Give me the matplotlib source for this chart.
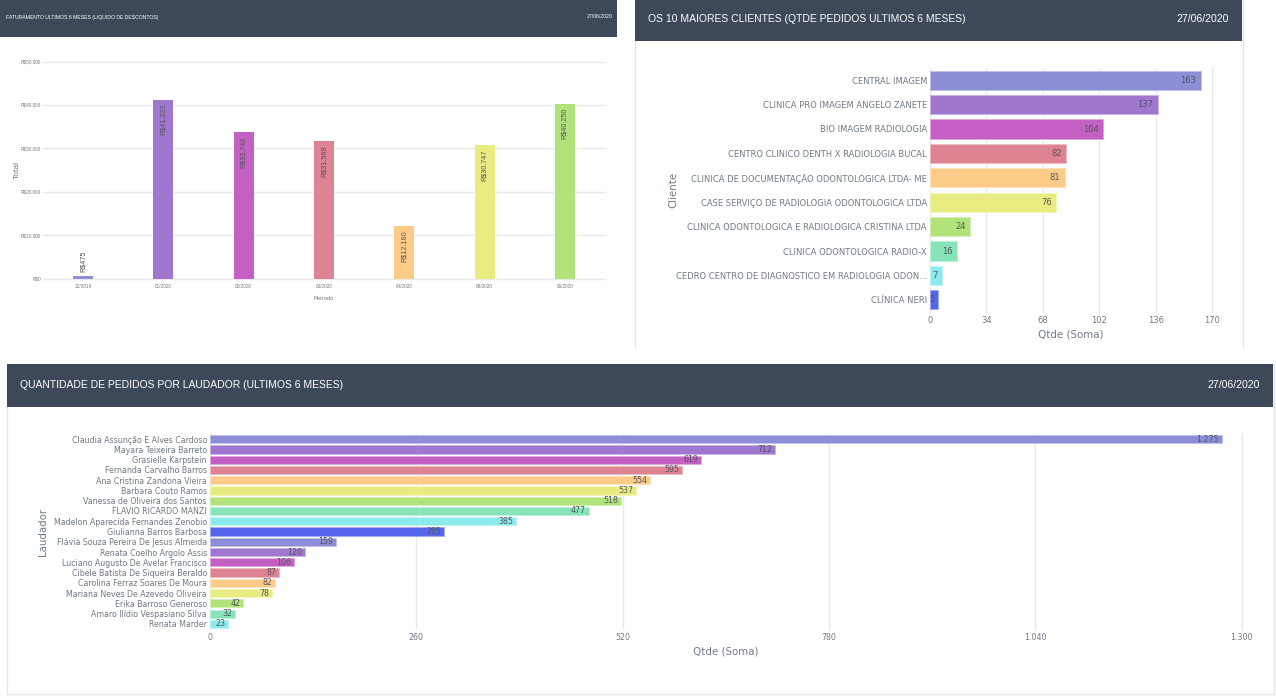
import matplotlib
matplotlib.use("Agg")
import matplotlib.pyplot as plt
from matplotlib.patches import Rectangle
from matplotlib.colors import to_rgb

W, H = 1276, 697

palette = ['#8c8fd8', '#9f77cf', '#c45fc3', '#de8392', '#fdcb88',
           '#e9ec80', '#b2e27a', '#87e3b8', '#8bebec', '#5566ea']

periodos = ['12/2019', '01/2020', '02/2020', '03/2020', '04/2020', '05/2020', '06/2020']
faturamento = [475, 41222, 33746, 31569, 12160, 30747, 40250]
fat_labels = ['R$475', 'R$41.222', 'R$33.746', 'R$31.569', 'R$12.160', 'R$30.747', 'R$40.250']
fat_ticks = [0, 10000, 20000, 30000, 40000, 50000]
fat_ticklabels = ['R$0', 'R$10.000', 'R$20.000', 'R$30.000', 'R$40.000', 'R$50.000']

clientes = ['CENTRAL IMAGEM', 'CLINICA PRO IMAGEM ANGELO ZANETE', 'BIO IMAGEM RADIOLOGIA',
            'CENTRO CLINICO DENTH X RADIOLOGIA BUCAL', 'CLINICA DE DOCUMENTAÇÃO ODONTOLÓGICA LTDA- ME',
            'CASE SERVIÇO DE RADIOLOGIA ODONTOLOGICA LTDA', 'CLINICA ODONTOLOGICA E RADIOLOGICA CRISTINA LTDA',
            'CLINICA ODONTOLOGICA RADIO-X', 'CEDRO CENTRO DE DIAGNOSTICO EM RADIOLOGIA ODON...', 'CLÍNICA NERI']
clientes_qtde = [163, 137, 104, 82, 81, 76, 24, 16, 7, 5]
clientes_ticks = [0, 34, 68, 102, 136, 170]

laudadores = ['Claudia Assunção E Alves Cardoso', 'Mayara Teixeira Barreto', 'Grasielle Karpstein',
              'Fernanda Carvalho Barros', 'Ana Cristina Zandona Vieira', 'Barbara Couto Ramos',
              'Vanessa de Oliveira dos Santos', 'FLAVIO RICARDO MANZI', 'Madelon Aparecida Fernandes Zenobio',
              'Giulianna Barros Barbosa', 'Flávia Souza Pereira De Jesus Almeida', 'Renata Coelho Argolo Assis',
              'Luciano Augusto De Avelar Francisco', 'Cibele Batista De Siqueira Beraldo',
              'Carolina Ferraz Soares De Moura', 'Mariana Neves De Azevedo Oliveira', 'Erika Barroso Generoso',
              'Amaro Ilídio Vespasiano Silva', 'Renata Marder']
laudadores_qtde = [1275, 712, 619, 595, 554, 537, 518, 477, 385, 295, 159, 120, 106, 87, 82, 78, 42, 32, 23]
laudadores_labels = ['1.275'] + [str(q) for q in laudadores_qtde[1:]]
laudadores_ticks = [0, 260, 520, 780, 1040, 1300]
laudadores_ticklabels = ['0', '260', '520', '780', '1.040', '1.300']

TXT = '#707a86'
VAL = '#555560'
GRID = '#e8e9ec'
HEAD = '#3d4858'
BORDER = '#e2e6ee'


def lighter(c, t=0.45):
    r = to_rgb(c)
    return tuple(v + (1 - v) * t for v in r)


fig = plt.figure(figsize=(W / 100, H / 100), dpi=100, facecolor='white')


def box(x0, y0, x1, y1, **kw):
    fig.add_artist(Rectangle((x0 / W, 1 - y1 / H), (x1 - x0) / W, (y1 - y0) / H,
                             transform=fig.transFigure, zorder=-1, **kw))


def ftext(x, y, s, **kw):
    fig.text(x / W, 1 - y / H, s, va='center', **kw)


def axes_px(x0, y0, x1, y1):
    ax = fig.add_axes([x0 / W, 1 - y1 / H, (x1 - x0) / W, (y1 - y0) / H])
    ax.patch.set_alpha(0)
    for s in ax.spines.values():
        s.set_visible(False)
    ax.set_axisbelow(True)
    return ax


def style_grid(ax, axis):
    ax.grid(True, axis=axis, color=GRID, linewidth=1.0)
    lines = ax.get_xgridlines() if axis == 'x' else ax.get_ygridlines()
    for l in lines:
        l.set_clip_on(False)


# panel frames and headers
fig.add_artist(plt.Line2D([634.5 / W, 634.5 / W], [1 - 347 / H, 1], color=BORDER, lw=1, zorder=-1))
fig.add_artist(plt.Line2D([1242.5 / W, 1242.5 / W], [1 - 347 / H, 1], color=BORDER, lw=1, zorder=-1))
box(6.5, 364.5, 1273.5, 693.5, facecolor='white', edgecolor=BORDER, linewidth=1)
box(0, 0, 617, 37, facecolor=HEAD, edgecolor='none')
box(635, 0, 1242, 41, facecolor=HEAD, edgecolor='none')
box(7, 364, 1273, 407, facecolor=HEAD, edgecolor='none')

SANS = 'Liberation Sans'
ftext(6, 17, 'FATURAMENTO ULTIMOS 6 MESES (LIQUIDO DE DESCONTOS)', color='white', fontsize=3.7, family=SANS)
ftext(613, 16, '27/06/2020', color='white', fontsize=3.7, ha='right', family=SANS)
ftext(648, 18.5, 'OS 10 MAIORES CLIENTES (QTDE PEDIDOS ULTIMOS 6 MESES)', color='white', fontsize=7.5, family=SANS)
ftext(1229, 18.5, '27/06/2020', color='white', fontsize=7.6, ha='right', family=SANS)
ftext(20, 384.5, 'QUANTIDADE DE PEDIDOS POR LAUDADOR (ULTIMOS 6 MESES)', color='white', fontsize=7.5, family=SANS)
ftext(1260, 384.5, '27/06/2020', color='white', fontsize=7.6, ha='right', family=SANS)

# --- Faturamento
ax = axes_px(43, 61.5, 605, 278.5)
ax.bar(range(len(periodos)), faturamento, width=0.25,
       color=[palette[i % 10] for i in range(7)], linewidth=0)
ax.set_xlim(-0.5, 6.5)
ax.set_ylim(0, 50000)
ax.set_yticks(fat_ticks, fat_ticklabels)
ax.set_xticks(range(7), periodos)
ax.tick_params(length=0, labelsize=3.4, labelcolor=TXT, pad=1.5)
for t in ax.get_xticklabels() + ax.get_yticklabels():
    t.set_family(SANS)
ax.tick_params(axis='x', pad=4)
style_grid(ax, 'y')
for i, (v, s) in enumerate(zip(faturamento, fat_labels)):
    if v < 5000:
        ax.annotate(s, (i, v), xytext=(0, 3.5), textcoords='offset points', rotation=90,
                    ha='center', va='bottom', fontsize=5.2, color=VAL, family=SANS)
    else:
        ax.annotate(s, (i, v), xytext=(0, -3), textcoords='offset points', rotation=90,
                    ha='center', va='top', fontsize=5.2, color=VAL, family=SANS)
ftext(324, 299, 'Periodo', color=TXT, fontsize=4.2, ha='center', family=SANS)
ftext(17, 170, 'Total', color=TXT, fontsize=6, ha='center', rotation=90, family=SANS)

# --- Clientes
ax = axes_px(930, 68, 1212.3, 312)
ax.barh(range(10), clientes_qtde, height=0.78, color=palette,
        edgecolor=[lighter(c) for c in palette], linewidth=0.7)
ax.set_xlim(0, 170)
ax.set_ylim(9.5, -0.5)
ax.set_xticks(clientes_ticks)
ax.set_yticks(range(10), clientes)
ax.tick_params(length=0, labelsize=6.0, labelcolor=TXT)
ax.tick_params(axis='y', pad=2.2)
ax.tick_params(axis='x', pad=2.8)
style_grid(ax, 'x')
for i, v in enumerate(clientes_qtde):
    ax.annotate(str(v), (v, i), xytext=(-3, 0), textcoords='offset points', ha='right', va='center',
                fontsize=6.0, color=VAL)
ftext(1071, 334, 'Qtde (Soma)', color=TXT, fontsize=7.4, ha='center')
ftext(673, 190, 'Cliente', color=TXT, fontsize=7.4, ha='center', rotation=90)

# --- Laudadores
ax = axes_px(210, 434, 1241.7, 629)
colors3 = [palette[i % 10] for i in range(len(laudadores))]
ax.barh(range(len(laudadores)), laudadores_qtde, height=0.8, color=colors3,
        edgecolor=[lighter(c) for c in colors3], linewidth=0.6)
ax.set_xlim(0, 1300)
ax.set_ylim(len(laudadores) - 0.5, -0.5)
ax.set_xticks(laudadores_ticks, laudadores_ticklabels)
ax.set_yticks(range(len(laudadores)), laudadores)
ax.tick_params(length=0, labelsize=5.65, labelcolor=TXT)
ax.tick_params(axis='y', pad=2.2)
ax.tick_params(axis='x', pad=3.2)
style_grid(ax, 'x')
for i, (v, s) in enumerate(zip(laudadores_qtde, laudadores_labels)):
    ax.annotate(s, (v, i), xytext=(-2, 0), textcoords='offset points', ha='right', va='center',
                fontsize=5.65, color=VAL)
ftext(726, 652, 'Qtde (Soma)', color=TXT, fontsize=7.4, ha='center')
ftext(43, 532, 'Laudador', color=TXT, fontsize=7.4, ha='center', rotation=90)

fig.savefig('out.png', dpi=100, facecolor='white')
